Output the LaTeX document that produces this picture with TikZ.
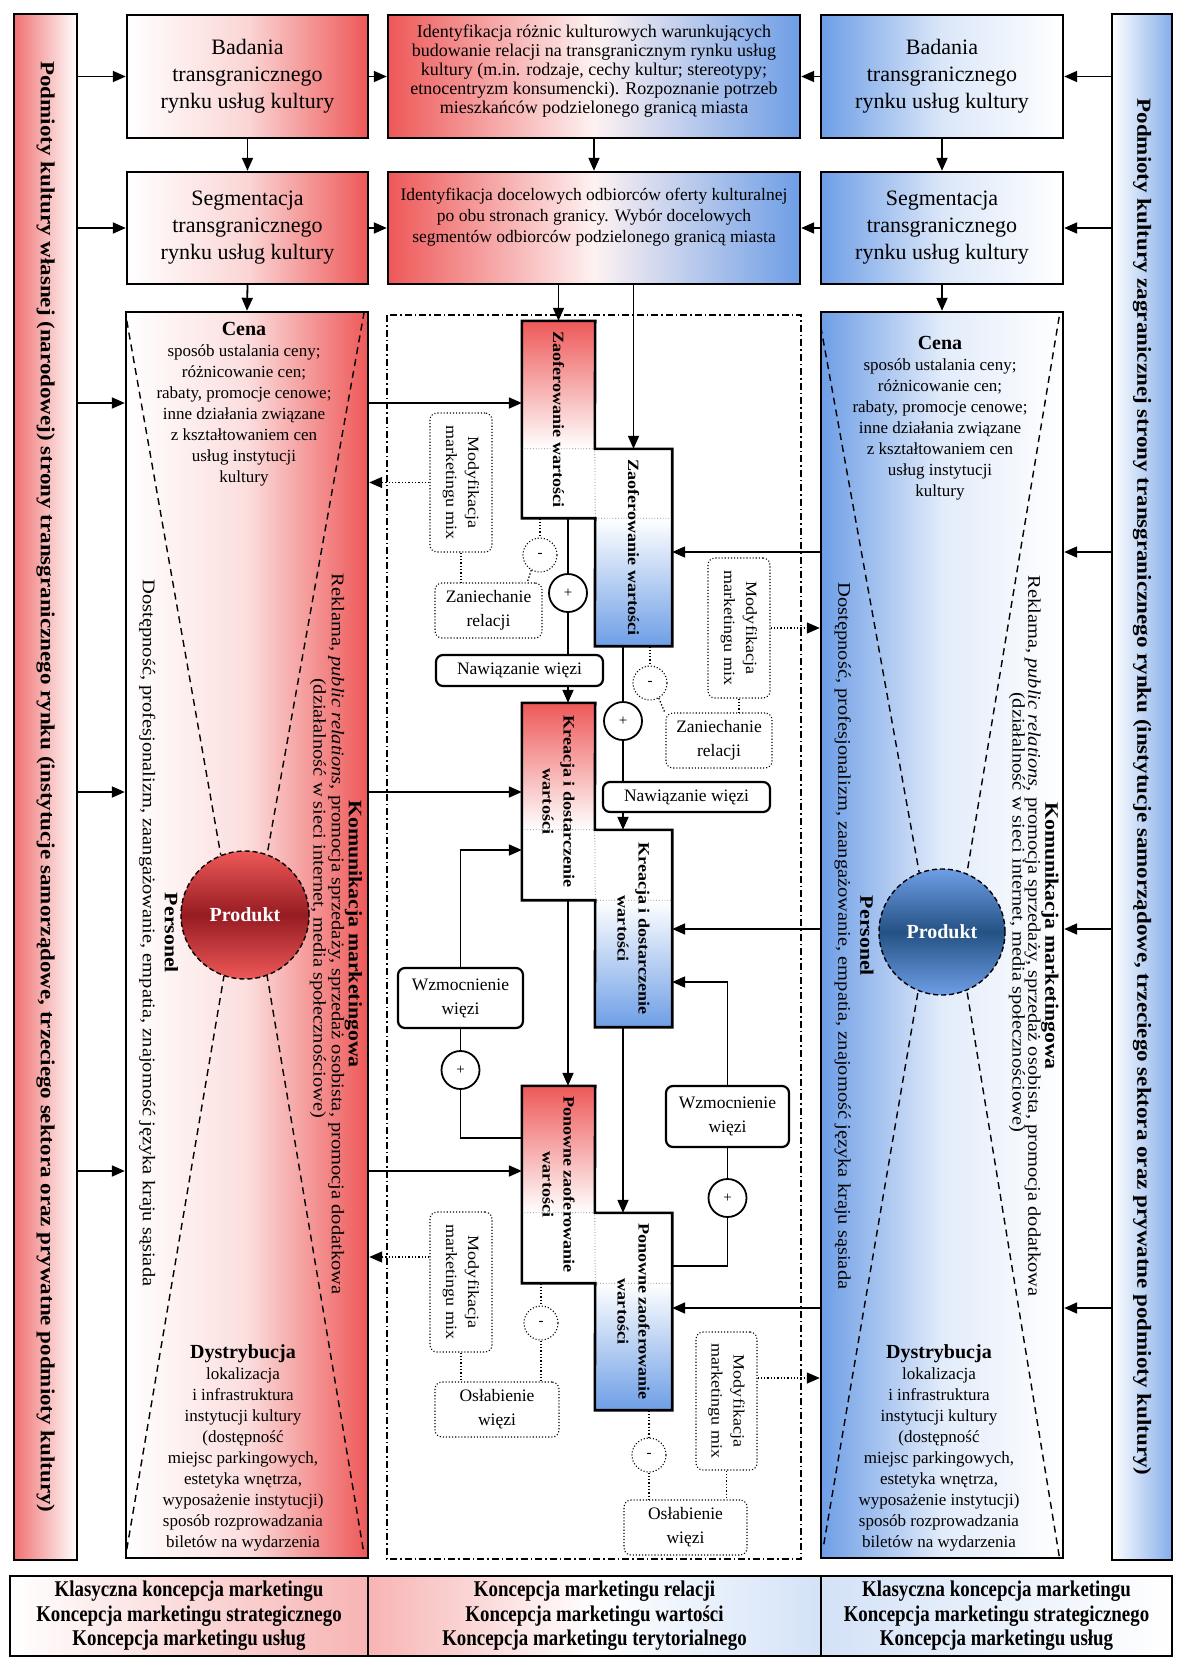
\documentclass[tikz,border=0pt]{standalone}
\usepackage{fontspec}
\setmainfont{Liberation Serif}
\newfontfamily\pionfont[FakeStretch=1.15]{Liberation Serif}
\newfontfamily\waskifont[FakeStretch=0.84]{Liberation Serif}
\usetikzlibrary{arrows.meta,positioning,calc}

\definecolor{czerwony}{RGB}{238,88,88}
\definecolor{niebieski}{RGB}{110,158,230}
\definecolor{czerwonyC}{RGB}{150,28,34}
\definecolor{niebieskiC}{RGB}{36,82,132}
\newcommand{\rozm}[2]{\fontsize{#1}{#2}\selectfont}

\begin{document}
\begin{tikzpicture}[
    x=1pt, y=-1pt,
    ramka/.style={draw, line width=2.4pt, inner sep=0pt, align=center},
    linia/.style={line width=1.8pt},
    arr/.style={linia, -{Triangle[length=13pt,width=11pt]}},
    kropk/.style={line width=1.3pt, dotted},
    darr/.style={kropk, -{Triangle[length=13pt,width=11pt]}},
    obly/.style={draw, rounded corners=7pt, line width=2.2pt, align=center, inner sep=0pt, fill=white, font=\rozm{17.5}{24}},
    oblyk/.style={draw, rounded corners=7pt, line width=1.1pt, dotted, align=center, inner sep=0pt, fill=white, font=\rozm{17.5}{24}},
    plus/.style={circle, draw, line width=1.8pt, fill=white, minimum size=38pt, inner sep=0pt, font=\rozm{15}{15}},
    minus/.style={circle, draw, line width=1.1pt, dotted, fill=white, minimum size=34pt, inner sep=0pt, font=\rozm{15}{15}},
    pion/.style={rotate=-90, align=center, inner sep=0pt},
    klepsydra/.style={line width=1.4pt, dash pattern=on 7pt off 5pt},
]
\useasboundingbox (0,0) rectangle (1176,1659);

% poziomy strzalek
\coordinate (h1) at (0,76.5);
\coordinate (h2) at (0,228);
\coordinate (h3) at (0,403);
\coordinate (h4) at (0,792);
\coordinate (h5) at (0,1171);
\coordinate (g3) at (0,552);
\coordinate (g4) at (0,929);
\coordinate (g5) at (0,1308);
\coordinate (d1) at (0,1257);
\coordinate (d2) at (0,1378);
\coordinate (w1) at (0,850);
\coordinate (w2) at (0,1138);
\coordinate (w3) at (0,982);
\coordinate (w4) at (0,1266);

% Paski boczne
\node[ramka, minimum width=63pt, minimum height=1546pt, left color=czerwony!85, right color=white] (lbar) at (45.5,787) {};
\node[pion, font=\pionfont\bfseries\rozm{20}{20}] (lbart) at (lbar.center) {Podmioty kultury własnej (narodowej) strony transgranicznego rynku (instytucje samorządowe, trzeciego sektora oraz prywatne podmioty kultury)};
\node[ramka, minimum width=60pt, minimum height=1546pt, left color=white, right color=niebieski!85] (rbar) at (1142,787) {};
\node[pion, font=\pionfont\bfseries\rozm{20}{20}] (rbart) at (rbar.center) {Podmioty kultury zagranicznej strony transgranicznego rynku (instytucje samorządowe, trzeciego sektora oraz prywatne podmioty kultury)};

% Gorne wiersze
\node[ramka, minimum width=241pt, minimum height=123pt, left color=white, right color=czerwony, middle color=czerwony!25, font=\rozm{22}{27}] (lbad) at (247.5,76.5) {Badania\\transgranicznego\\rynku usług kultury};
\node[ramka, minimum width=412pt, minimum height=123pt, left color=czerwony, right color=niebieski, middle color=czerwony!8, font=\rozm{18}{19}] (ident1) at (594,76.5) {Identyfikacja różnic kulturowych warunkujących\\budowanie relacji na transgranicznym rynku usług\\kultury (m.in. rodzaje, cechy kultur; stereotypy;\\etnocentryzm konsumencki). Rozpoznanie potrzeb\\mieszkańców podzielonego granicą miasta\\[-4pt]\mbox{}};
\node[ramka, minimum width=242pt, minimum height=123pt, left color=niebieski, right color=white, middle color=niebieski!25, font=\rozm{22}{27}] (rbad) at (942,76.5) {Badania\\transgranicznego\\rynku usług kultury};

\node[ramka, minimum width=241pt, minimum height=112pt, left color=white, right color=czerwony, middle color=czerwony!25, font=\rozm{22}{27}] (lseg) at (247.5,228) {Segmentacja\\transgranicznego\\rynku usług kultury};
\node[ramka, minimum width=412pt, minimum height=112pt, left color=czerwony, right color=niebieski, middle color=czerwony!8, font=\rozm{17.5}{21}] (ident2) at (594,228) {Identyfikacja docelowych odbiorców oferty kulturalnej\\po obu stronach granicy. Wybór docelowych\\segmentów odbiorców podzielonego granicą miasta\\[4pt]\mbox{}};
\node[ramka, minimum width=242pt, minimum height=112pt, left color=niebieski, right color=white, middle color=niebieski!25, font=\rozm{22}{27}] (rseg) at (942,228) {Segmentacja\\transgranicznego\\rynku usług kultury};

% Marketing mix po obu stronach
\node[ramka, minimum width=242pt, minimum height=1246pt, left color=white, right color=czerwony, middle color=czerwony!20] (lmix) at (247,935) {};
\node[ramka, minimum width=242pt, minimum height=1246pt, left color=niebieski, right color=white, middle color=niebieski!20] (rmix) at (942,935) {};

\node[circle, minimum size=128pt, draw, line width=1.4pt, dash pattern=on 5pt off 3pt, top color=czerwony, bottom color=czerwony, middle color=czerwonyC, text=white, font=\bfseries\rozm{20}{20}] (prodL) at (245,915) {Produkt};
\node[circle, minimum size=126pt, draw, line width=1.4pt, dash pattern=on 5pt off 3pt, top color=niebieski, bottom color=niebieski, middle color=niebieskiC, text=white, font=\bfseries\rozm{20}{20}] (prodR) at (942,932) {Produkt};

\draw[klepsydra] ([shift={(2,10)}]lmix.north west) -- (prodL.112);
\draw[klepsydra] ([shift={(-5,1)}]lmix.north east) -- (prodL.70);
\draw[klepsydra] ([shift={(2,-10)}]lmix.south west) -- (prodL.-109);
\draw[klepsydra] ([shift={(-6,-10)}]lmix.south east) -- (prodL.-70);
\draw[klepsydra] ([shift={(1,16)}]rmix.north west) -- (prodR.111);
\draw[klepsydra] ([shift={(-5,6)}]rmix.north east) -- (prodR.67);
\draw[klepsydra] ([shift={(4,-15)}]rmix.south west) -- (prodR.-112);
\draw[klepsydra] ([shift={(-5,-3)}]rmix.south east) -- (prodR.-67);

\node[anchor=north, align=center, inner sep=0pt, font=\rozm{17}{21}] (cenaL) at (244,322) {{\bfseries\rozm{20}{24}Cena}\\sposób ustalania ceny;\\różnicowanie cen;\\rabaty, promocje cenowe;\\inne działania związane\\z kształtowaniem cen\\usług instytucji\\kultury};
\node[anchor=north, align=center, inner sep=0pt, font=\rozm{17}{21}] (cenaR) at (940,336) {{\bfseries\rozm{20}{24}Cena}\\sposób ustalania ceny;\\różnicowanie cen;\\rabaty, promocje cenowe;\\inne działania związane\\z kształtowaniem cen\\usług instytucji\\kultury};
\node[anchor=south, align=center, inner sep=0pt, font=\rozm{17}{21}] (dystL) at (243,1551) {{\bfseries\rozm{20}{24}Dystrybucja}\\lokalizacja\\i infrastruktura\\instytucji kultury\\(dostępność\\miejsc parkingowych,\\estetyka wnętrza,\\wyposażenie instytucji)\\sposób rozprowadzania\\biletów na wydarzenia};
\node[anchor=south, align=center, inner sep=0pt, font=\rozm{17}{21}] (dystR) at (939,1551) {{\bfseries\rozm{20}{24}Dystrybucja}\\lokalizacja\\i infrastruktura\\instytucji kultury\\(dostępność\\miejsc parkingowych,\\estetyka wnętrza,\\wyposażenie instytucji)\\sposób rozprowadzania\\biletów na wydarzenia};

\node[pion, font=\pionfont\rozm{17.8}{19}] (persL) at (158.5,933) {{\bfseries\rozm{19}{19}Personel}\\[3pt]Dostępność, profesjonalizm, zaangażowanie, empatia, znajomość języka kraju sąsiada};
\node[pion, font=\pionfont\rozm{17.8}{17}] (komL) at (345,934) {{\bfseries\rozm{19}{17}Komunikacja marketingowa}\\Reklama, \textit{public relations}, promocja sprzedaży, sprzedaż osobista, promocja dodatkowa};
\node[pion, font=\pionfont\rozm{17.8}{17}] (dzL) at (318,898) {(działalność w sieci internet, media społecznościowe)};
\node[pion, font=\pionfont\rozm{17.8}{19}] (persR) at (854,936) {{\bfseries\rozm{19}{19}Personel}\\[3pt]Dostępność, profesjonalizm, zaangażowanie, empatia, znajomość języka kraju sąsiada};
\node[pion, font=\pionfont\rozm{17.8}{17}] (komR) at (1041.5,936) {{\bfseries\rozm{19}{17}Komunikacja marketingowa}\\Reklama, \textit{public relations}, promocja sprzedaży, sprzedaż osobista, promocja dodatkowa};
\node[pion, font=\pionfont\rozm{17.8}{17}] (dzR) at (1017,912) {(działalność w sieci internet, media społecznościowe)};

% Ramka relacji
\draw[line width=1.3pt, dash pattern=on 7pt off 3pt on 1.5pt off 3pt] (387,315) rectangle (801,1559);

% Etapy relacji
\node[minimum width=73pt, minimum height=197pt, inner sep=0pt] (zaofA) at (558.5,419.5) {};
\node[minimum width=77pt, minimum height=197pt, inner sep=0pt] (zaofB) at (633.5,547.5) {};
\node[minimum width=73pt, minimum height=197pt, inner sep=0pt] (kreA) at (558.5,801.5) {};
\node[minimum width=77pt, minimum height=197pt, inner sep=0pt] (kreB) at (633.5,928.5) {};
\node[minimum width=73pt, minimum height=197pt, inner sep=0pt] (ponA) at (558.5,1184.5) {};
\node[minimum width=77pt, minimum height=197pt, inner sep=0pt] (ponB) at (633.5,1311.5) {};

\foreach \a/\b in {zaofA/zaofB, kreA/kreB, ponA/ponB}{
  \fill[top color=czerwony, bottom color=white] (\a.north west) rectangle (\a.east |- \b.north);
  \fill[white] (\a.west |- \b.north) rectangle (\a.south east);
  \fill[white] (\b.north west) rectangle (\b.east |- \a.south);
  \fill[top color=white, bottom color=niebieski] (\b.west |- \a.south) rectangle (\b.south east);
  \draw[gray, dotted, line width=0.8pt] (\a.west |- \b.north) -- (\b.north west) -- (\a.south east) -- (\b.east |- \a.south);
  \draw[line width=2.6pt, line join=miter] (\a.north west) -- (\a.north east) -- (\b.north west) -- (\b.north east) -- (\b.south east) -- (\b.south west) -- (\a.south east) -- (\a.south west) -- cycle;
}

\node[pion, font=\pionfont\bfseries\rozm{15.7}{21}] (zaofAt) at (zaofA) {Zaoferowanie wartości};
\node[pion, font=\pionfont\bfseries\rozm{15.7}{21}] (zaofBt) at (zaofB) {Zaoferowanie wartości};
\node[pion, font=\pionfont\bfseries\rozm{15.7}{21}] (kreAt) at (kreA) {Kreacja i dostarczenie\\wartości};
\node[pion, font=\pionfont\bfseries\rozm{15.7}{21}] (kreBt) at (kreB) {Kreacja i dostarczenie\\wartości};
\node[pion, font=\pionfont\bfseries\rozm{15.7}{21}] (ponAt) at (ponA) {Ponowne zaoferowanie\\wartości};
\node[pion, font=\pionfont\bfseries\rozm{15.7}{21}] (ponBt) at (ponB) {Ponowne zaoferowanie\\wartości};

% Pola pomocnicze
\node[oblyk, minimum width=62pt, minimum height=139pt] (modL1) at (461,482.5) {};
\node[pion, font=\pionfont\rozm{15.7}{22}] (modL1t) at (modL1) {Modyfikacja\\marketingu mix};
\node[oblyk, minimum width=62pt, minimum height=140pt] (modR1) at (739,628) {};
\node[pion, font=\pionfont\rozm{15.7}{22}] (modR1t) at (modR1) {Modyfikacja\\marketingu mix};
\node[oblyk, minimum width=62pt, minimum height=140pt] (modL2) at (461,1282) {};
\node[pion, font=\pionfont\rozm{15.7}{22}] (modL2t) at (modL2) {Modyfikacja\\marketingu mix};
\node[oblyk, minimum width=61pt, minimum height=138pt] (modR2) at (726.5,1401) {};
\node[pion, font=\pionfont\rozm{15.7}{22}] (modR2t) at (modR2) {Modyfikacja\\marketingu mix};

\node[oblyk, minimum width=107pt, minimum height=55pt] (zanL) at (488.5,610.5) {Zaniechanie\\relacji};
\node[oblyk, minimum width=106pt, minimum height=55pt] (zanR) at (719,740.5) {Zaniechanie\\relacji};
\node[oblyk, minimum width=124pt, minimum height=55pt] (oslL) at (497,1409.5) {Osłabienie\\więzi};
\node[oblyk, minimum width=123pt, minimum height=55pt] (oslR) at (685.5,1527.5) {Osłabienie\\więzi};
\node[obly, minimum width=167pt, minimum height=31pt] (nawL) at (519.5,670.5) {Nawiązanie więzi};
\node[obly, minimum width=167pt, minimum height=30pt] (nawR) at (686.5,797) {Nawiązanie więzi};
\node[obly, minimum width=125pt, minimum height=60pt] (wzmL) at (460.5,998) {Wzmocnienie\\więzi};
\node[obly, minimum width=123pt, minimum height=61pt] (wzmR) at (727.5,1116.5) {Wzmocnienie\\więzi};

\node[plus] (plusL1) at (568,593) {+};
\node[plus] (plusR1) at (623,721) {+};
\node[plus] (plusW1) at (460.5,1070) {+};
\node[plus] (plusW2) at (727.5,1198) {+};
\node[minus] (minusL1) at (540,555) {-};
\node[minus] (minusR1) at (650,683) {-};
\node[minus] (minusL2) at (541,1323) {-};
\node[minus] (minusR2) at (649,1455) {-};

% Strzalki gorne
\draw[arr] (lbad.east) -- (ident1.west);
\draw[arr] (rbad.west) -- (ident1.east);
\draw[arr] (lseg.east) -- (ident2.west);
\draw[arr] (rseg.west) -- (ident2.east);
\draw[arr] (lbad.south) -- (lseg.north);
\draw[arr] (rbad.south) -- (rseg.north);
\draw[arr] (ident1.south) -- (ident2.north);
\draw[arr] (lseg.south) -- (lmix.north);
\draw[arr] (rseg.south) -- (rmix.north);
\draw[arr] (ident2.south -| zaofA.north) -- (zaofA.north);
\draw[arr] (ident2.south -| zaofB.north) -- (zaofB.north);

% Strzalki z paskow
\foreach \h/\n in {h1/lbad, h2/lseg, h3/lmix, h4/lmix, h5/lmix}
  \draw[arr] (lbar.east |- \h) -- (\n.west |- \h);
\foreach \h/\n in {h1/rbad, h2/rseg, g3/rmix, g4/rmix, g5/rmix}
  \draw[arr] (rbar.west |- \h) -- (\n.east |- \h);
\draw[arr] (lmix.east |- h3) -- (zaofA.west |- h3);
\draw[arr] (lmix.east |- h4) -- (kreA.west |- h4);
\draw[arr] (lmix.east |- h5) -- (ponA.west |- h5);
\draw[arr] (rmix.west |- g3) -- (zaofB.east |- g3);
\draw[arr] (rmix.west |- g4) -- (kreB.east |- g4);
\draw[arr] (rmix.west |- g5) -- (ponB.east |- g5);

% Modyfikacja marketingu mix
\draw[darr] (modL1.west) -- (lmix.east |- modL1.west);
\draw[darr] (modR1.east) -- (rmix.west |- modR1.east);
\draw[darr] (modL2.west |- d1) -- (lmix.east |- d1);
\draw[darr] (modR2.east |- d2) -- (rmix.west |- d2);

% Nawiazanie wiezi
\draw[linia] (zaofA.south -| plusL1) -- (plusL1.north);
\draw[linia] (plusL1.south) -- (nawL.north -| plusL1);
\draw[arr] (nawL.south -| plusL1) -- (kreA.north -| plusL1);
\draw[linia] (zaofB.south -| plusR1) -- (plusR1.north);
\draw[linia] (plusR1.south) -- (nawR.north -| plusR1);
\draw[arr] (nawR.south -| plusR1) -- (kreB.north -| plusR1);
\draw[arr] (kreA.south -| plusL1) -- (ponA.north -| plusL1);
\draw[arr] (kreB.south -| plusR1) -- (ponB.north -| plusR1);

% Zaniechanie relacji
\draw[kropk] (zaofA.south -| minusL1) -- (minusL1.north);
\draw[kropk] (minusL1.240) -- ($(minusL1.240 |- zanL.north)+(-4,0)$);
\draw[kropk] (modL1.south) -- (modL1.south |- zanL.north);
\draw[kropk] (zaofB.south -| minusR1) -- (minusR1.north);
\draw[kropk] (minusR1.-60) -- ($(minusR1.-60 |- zanR.north)+(6,0)$);
\draw[kropk] (modR1.south) -- (modR1.south |- zanR.north);

% Wzmocnienie wiezi
\draw[arr] (wzmL.north) |- (kreA.west |- w1);
\draw[linia] (wzmL.south) -- (plusW1.north);
\draw[linia] (plusW1.south) |- (ponA.west |- w2);
\draw[arr] (wzmR.north) |- (kreB.east |- w3);
\draw[linia] (wzmR.south) -- (plusW2.north);
\draw[linia] (plusW2.south) |- (ponB.east |- w4);

% Oslabienie wiezi
\draw[kropk] (ponA.south -| minusL2) -- (minusL2.north);
\draw[kropk] (minusL2.south) -- (minusL2.south |- oslL.north);
\draw[kropk] (modL2.south) -- (modL2.south |- oslL.north);
\draw[kropk] (ponB.south -| minusR2) -- (minusR2.north);
\draw[kropk] (minusR2.south) -- (minusR2.south |- oslR.north);
\draw[kropk] (modR2.south) -- (modR2.south |- oslR.north);

% Koncepcje marketingu
\node[ramka, minimum width=358pt, minimum height=80pt, left color=white, right color=czerwony!45, font=\waskifont\bfseries\rozm{22.5}{24.5}] (konL) at (189,1616) {Klasyczna koncepcja marketingu\\Koncepcja marketingu strategicznego\\Koncepcja marketingu usług};
\node[ramka, minimum width=453pt, minimum height=80pt, left color=czerwony!45, right color=niebieski!30, middle color=white, font=\waskifont\bfseries\rozm{22.5}{24.5}] (konM) at (594.5,1616) {Koncepcja marketingu relacji\\Koncepcja marketingu wartości\\Koncepcja marketingu terytorialnego};
\node[ramka, minimum width=351pt, minimum height=80pt, left color=niebieski!30, right color=white, font=\waskifont\bfseries\rozm{22.5}{24.5}] (konR) at (996.5,1616) {Klasyczna koncepcja marketingu\\Koncepcja marketingu strategicznego\\Koncepcja marketingu usług};

\end{tikzpicture}
\end{document}
